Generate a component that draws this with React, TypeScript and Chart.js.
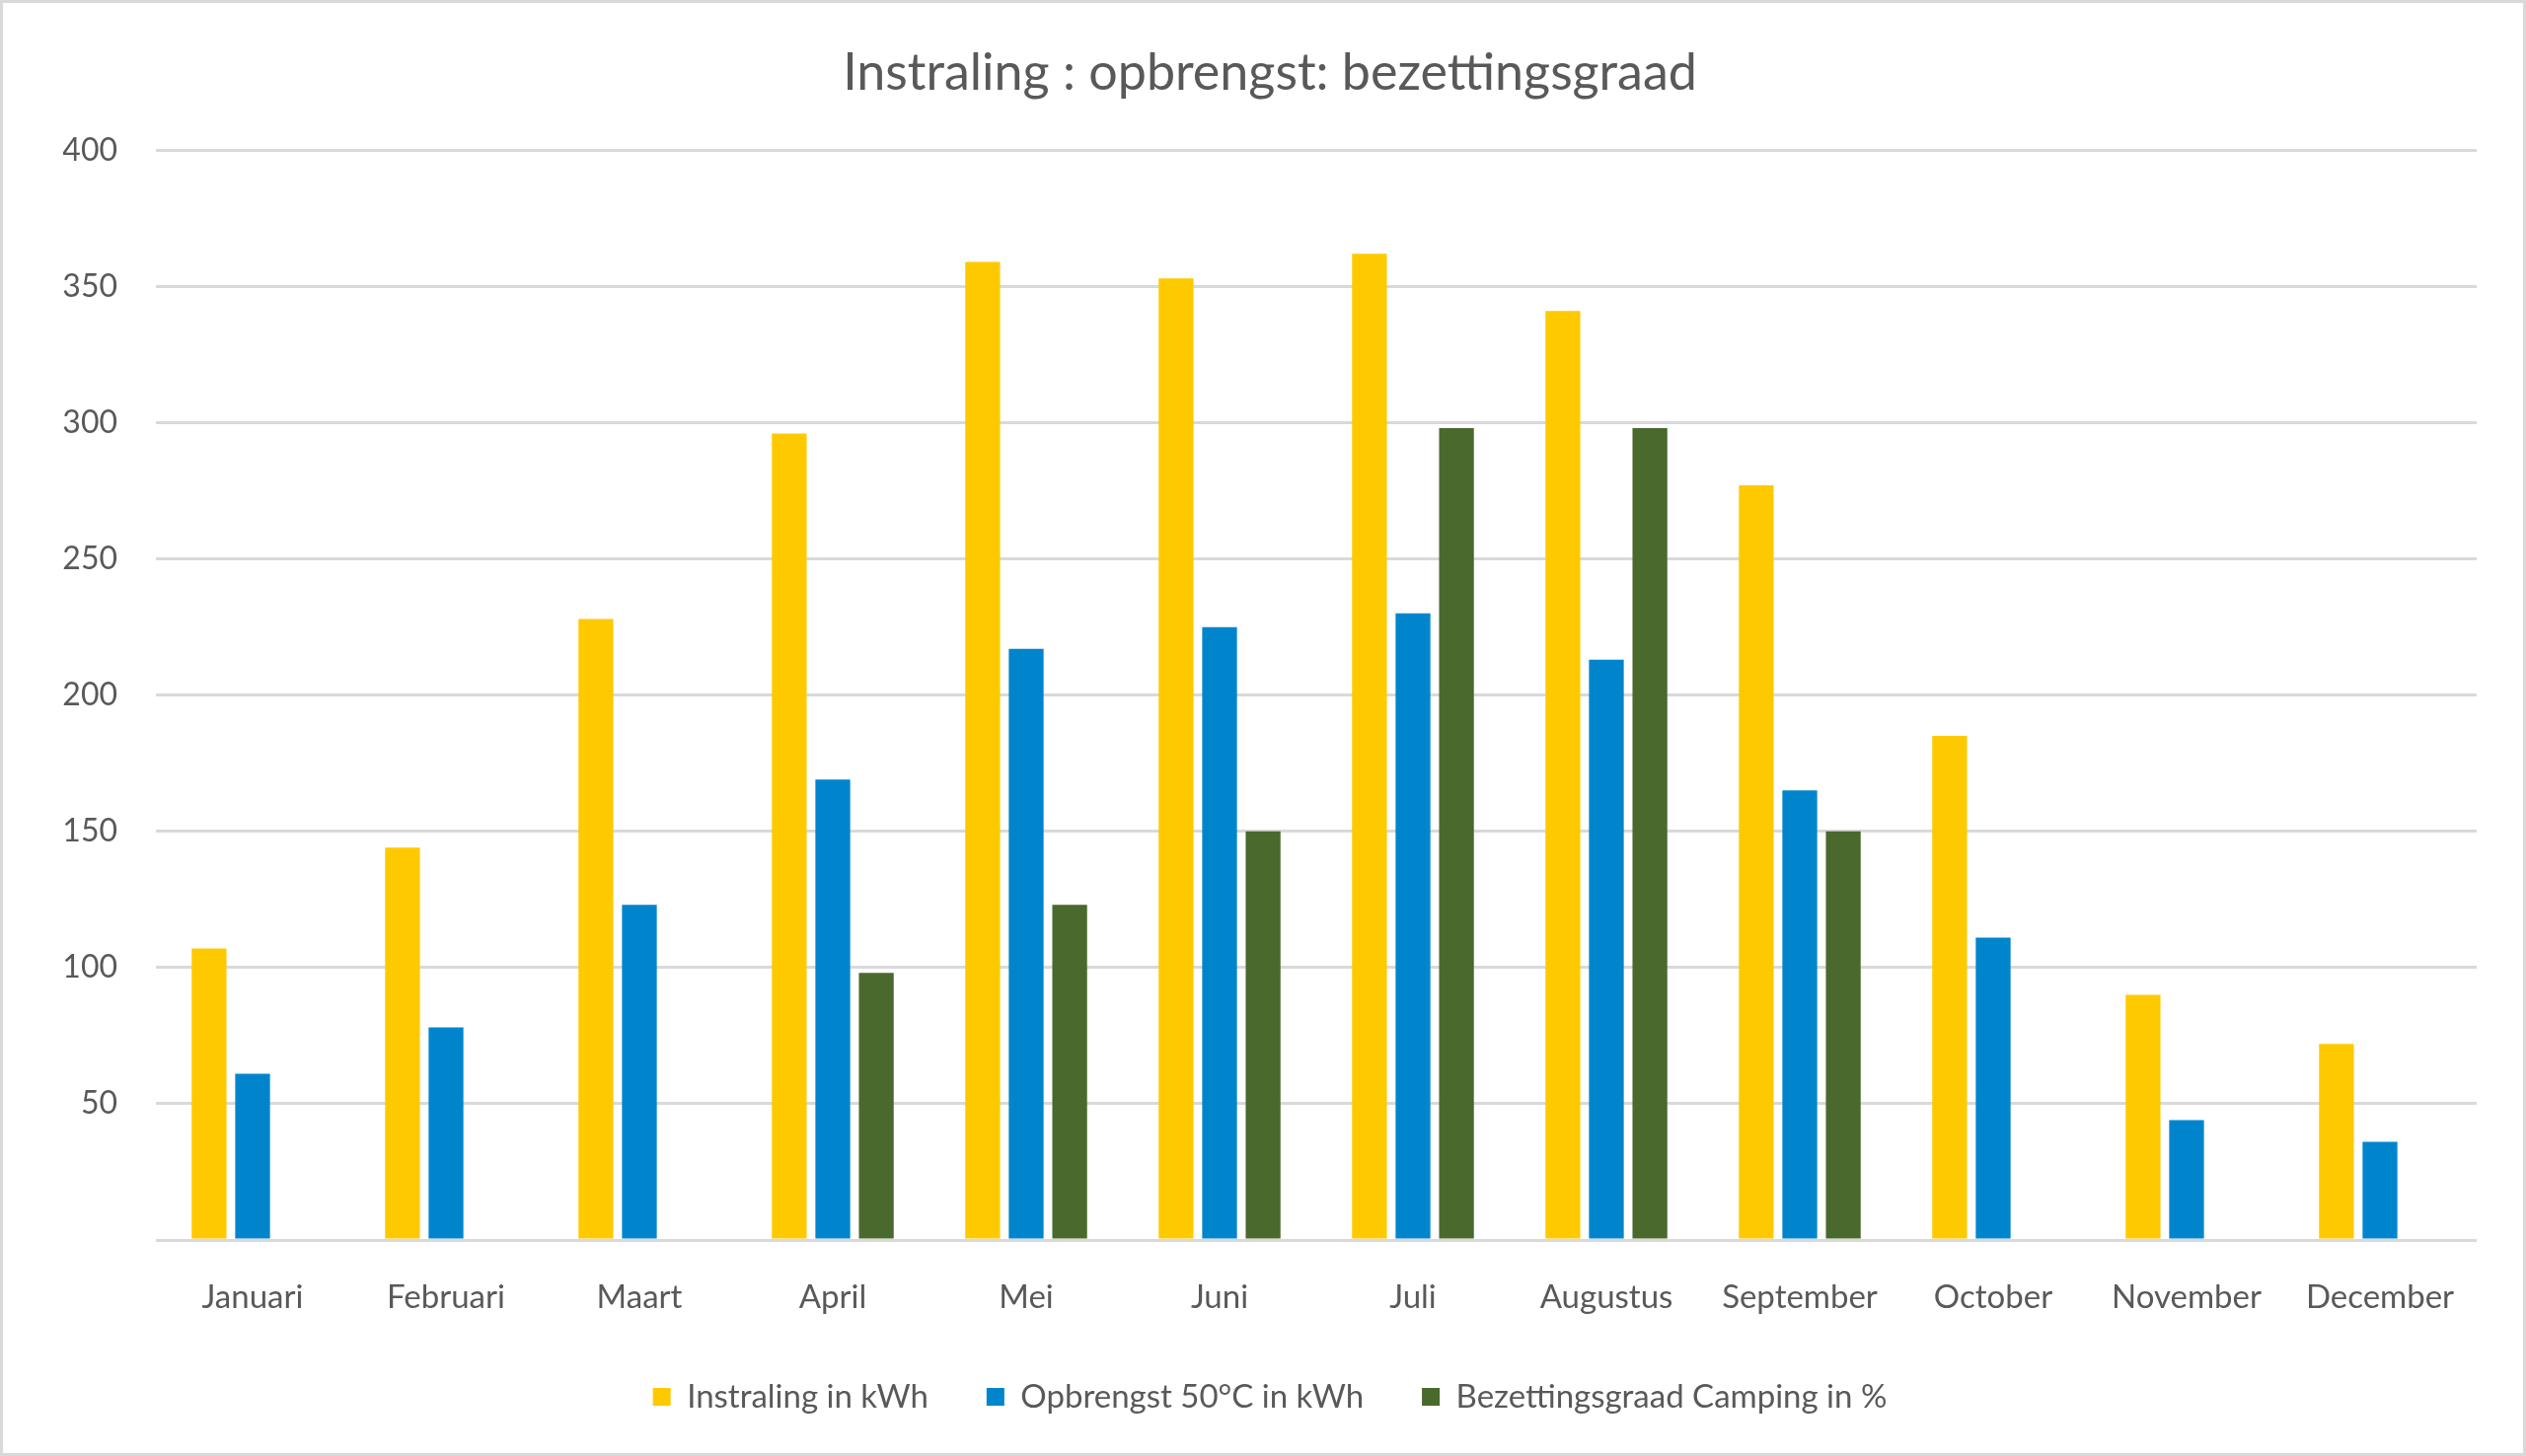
import { useEffect, useRef } from "react";
import { Chart, registerables } from "chart.js";

Chart.register(...registerables);

const months = [
  "Januari", "Februari", "Maart", "April", "Mei", "Juni",
  "Juli", "Augustus", "September", "October", "November", "December",
];
const instraling = [107, 144, 228, 296, 359, 353, 362, 341, 277, 185, 90, 72];
const opbrengst = [61, 78, 123, 169, 217, 225, 230, 213, 165, 111, 44, 36];
const bezetting = [null, null, null, 98, 123, 150, 298, 298, 150, null, null, null];

const TEXT = "#595959";
const GRID = "#d9d9d9";

export default function App() {
  const canvasRef = useRef<HTMLCanvasElement>(null);
  const chartRef = useRef<Chart | null>(null);

  useEffect(() => {
    if (!canvasRef.current) return;
    chartRef.current?.destroy();
    Chart.defaults.font.family = "Lato";
    Chart.defaults.color = TEXT;

    chartRef.current = new Chart(canvasRef.current, {
      type: "bar",
      data: {
        labels: months,
        datasets: [
          { label: "Instraling in kWh", data: instraling, backgroundColor: "#ffc900" },
          { label: "Opbrengst 50°C in kWh", data: opbrengst, backgroundColor: "#0085cd" },
          { label: "Bezettingsgraad Camping in %", data: bezetting, backgroundColor: "#4a692d" },
        ],
      },
      options: {
        animation: false,
        responsive: true,
        maintainAspectRatio: false,
        layout: { padding: { left: 61, right: 47, top: 0, bottom: 30.5 } },
        datasets: { bar: { categoryPercentage: 0.675, barPercentage: 0.8 } },
        plugins: {
          tooltip: { enabled: false },
          title: {
            display: true,
            text: "Instraling : opbrengst: bezettingsgraad",
            color: TEXT,
            font: { size: 52, weight: "normal" },
            padding: { top: 40, bottom: 47 },
          },
          legend: {
            position: "bottom",
            labels: { boxWidth: 18, boxHeight: 18, padding: 59, color: TEXT, font: { size: 33 } },
          },
        },
        scales: {
          x: {
            grid: { display: false, drawTicks: false },
            border: { display: false },
            ticks: { padding: 39, color: TEXT, font: { size: 33 } },
            afterFit: (scale) => { scale.height = 83.5; },
          },
          y: {
            min: 0,
            max: 400,
            grid: { color: GRID, lineWidth: 3, drawTicks: false },
            border: { display: false },
            ticks: {
              stepSize: 50,
              padding: 39,
              color: TEXT,
              font: { size: 32 },
              callback: (v) => (v === 0 ? "" : String(v)),
            },
            afterFit: (scale) => { scale.width = 94; },
          },
        },
      },
    });

    return () => { chartRef.current?.destroy(); };
  }, []);

  return (
    <div style={{ position: "fixed", inset: 0, border: `3px solid ${GRID}`, boxSizing: "border-box", background: "#fff" }}>
      <div style={{ position: "relative", width: "100%", height: "100%" }}>
        <canvas ref={canvasRef} />
      </div>
    </div>
  );
}
